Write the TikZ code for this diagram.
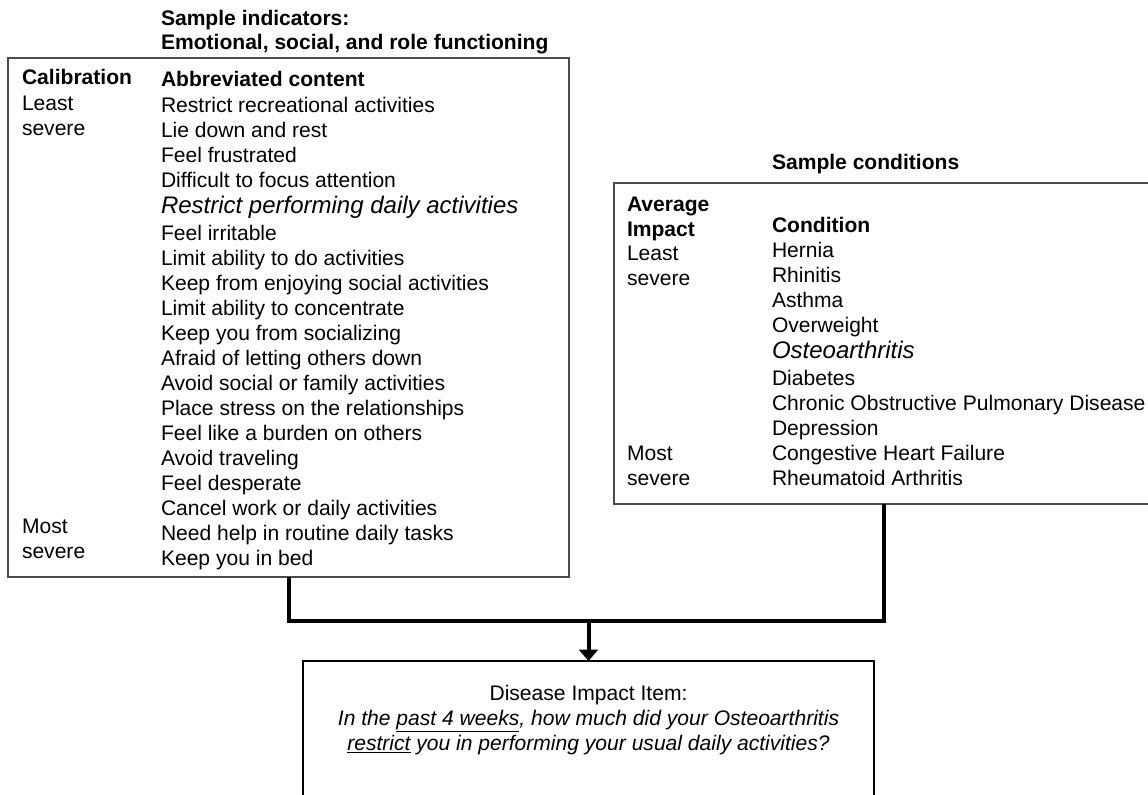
\documentclass[tikz,border=0pt]{standalone}
\usepackage{fontspec}
\setmainfont{Liberation Sans}
\usepackage{tikz}
\usetikzlibrary{arrows.meta}
\newcommand\emphrow{\fontsize{18pt}{20pt}\selectfont\itshape}

\begin{document}
\begin{tikzpicture}[x=0.75pt, y=-0.75pt,
     every node/.style = {inner sep=0pt, outer sep=0pt,
         font=\fontsize{15.8pt}{18.75pt}\selectfont},
     txt/.style = {anchor=base west},
     hd/.style = {txt, font=\fontsize{15.8pt}{18.75pt}\selectfont\bfseries},
     frame/.style = {draw=black!70, line width=1pt, anchor=north west},
     conn/.style = {line width=3pt}]
        \useasboundingbox (0,0) rectangle (1148,795);
        \clip (0,0) rectangle (1148,795);
        % boxes
        \node [frame, minimum width=420.75pt, minimum height=389.25pt] (lbox) at (8,58) {};
        \node [frame, minimum width=405pt, minimum height=240.75pt] (rbox) at (614,183) {};
        \node [frame, draw=black, line width=0.8pt, minimum width=428.25pt, minimum height=111.75pt] (qbox) at (303,661) {};
        % indicators
        \node [hd] (ltitle) at (161,25.5) {Sample indicators:};
        \node [hd] (lsub) at (161,49.5) {Emotional, social, and role functioning};
        \node [hd] (lcal) at (22,85) {Calibration};
        \node [hd] (lhead) at (161,87) {Abbreviated content};
        \node [txt] (lleast) at (22,110.5) {Least};
        \node [txt] (lleastb) at (22,135.5) {severe};
        \node [txt] (lmost) at (22,533.5) {Most};
        \node [txt] (lmostb) at (22,558.5) {severe};
        \foreach \t [count=\i] in {Restrict recreational activities, Lie down and rest,
            Feel frustrated, Difficult to focus attention,
            {\emphrow Restrict performing daily activities}, Feel irritable,
            Limit ability to do activities, Keep from enjoying social activities,
            Limit ability to concentrate, Keep you from socializing,
            Afraid of letting others down, Avoid social or family activities,
            Place stress on the relationships, Feel like a burden on others,
            Avoid traveling, Feel desperate, Cancel work or daily activities,
            Need help in routine daily tasks, Keep you in bed}
          \node [txt] (ind\i) at (161,{112.5+25*(\i-1)+(\i==5)+3*(\i>5)}) {\t};
        % conditions
        \node [hd] (rtitle) at (772,170) {Sample conditions};
        \node [hd] (ravg) at (627,211) {Average};
        \node [hd] (rimp) at (627,236) {Impact};
        \node [hd] (rhead) at (772,232) {Condition};
        \node [txt] (rleast) at (627,260.5) {Least};
        \node [txt] (rleastb) at (627,285.5) {severe};
        \node [txt] (rmost) at (627,460.5) {Most};
        \node [txt] (rmostb) at (627,485.5) {severe};
        \foreach \t [count=\i] in {Hernia, Rhinitis, Asthma, Overweight,
            {\emphrow Osteoarthritis}, Diabetes, Chronic Obstructive Pulmonary Disease,
            Depression, Congestive Heart Failure, Rheumatoid Arthritis}
          \node [txt] (cond\i) at (772,{257.5+25*(\i-1)+(\i==5)+3*(\i>5)}) {\t};
        % item
        \node [anchor=north, align=center] (qtext) at (588.5,685)
          {Disease Impact Item:\\
           \itshape In the \underline{past 4 weeks}, how much did your Osteoarthritis\\
           \itshape \underline{restrict} you in performing your usual daily activities?};
        % connectors
        \coordinate (join) at (588.5,621);
        \draw [conn] (lbox.south) |- (join) -| (rbox.south);
        \draw [conn, -{Triangle[width=14pt, length=8.5pt]}] (join) -- (qbox.north);
\end{tikzpicture}
\end{document}
